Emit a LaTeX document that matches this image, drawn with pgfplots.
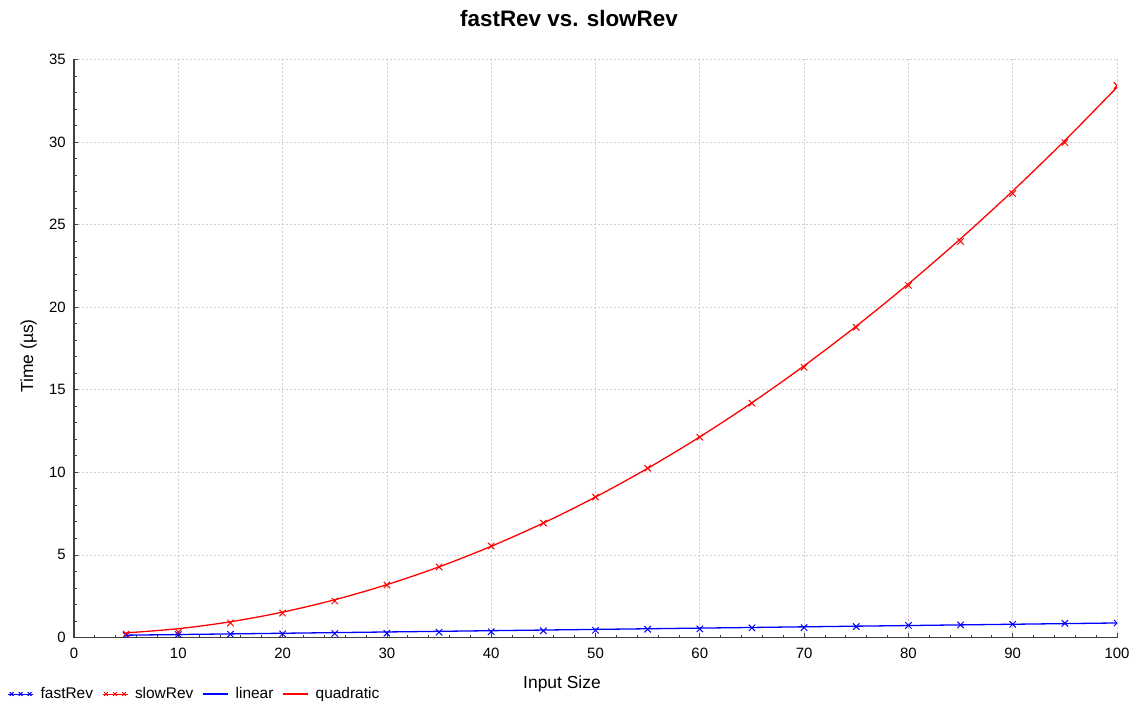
\documentclass[border=0pt]{standalone}
\usepackage{fontspec}
\setmainfont{Liberation Sans}
\usepackage{pgfplots}
\pgfplotsset{compat=1.18}
\definecolor{axisgray}{RGB}{64,64,64}
\definecolor{gridgray}{RGB}{205,205,205}
% legend pictures: three crosses for measurements, a short stroke for fits
\pgfplotsset{
  markleg/.style={legend image code/.code={%
    \path (0bp,0bp) -- (25bp,0bp);
    \path[##1, only marks, mark size=2.6bp] plot coordinates {(3.5bp,0bp) (12.5bp,0bp) (21.5bp,0bp)};}},
  lineleg/.style={legend image code/.code={%
    \path (0bp,0bp) -- (25bp,0bp); \draw[##1] (4bp,0bp) -- (22bp,0bp);}},
}

\begin{document}
\begin{tikzpicture}
\useasboundingbox (0,0) rectangle (1139bp,705bp);
\begin{axis}[
  at={(74bp,67.5bp)}, anchor=south west,
  scale only axis, width=1043bp, height=578bp,
  xmin=0, xmax=100, ymin=0, ymax=35,
  xtick={0,10,...,100}, ytick={0,5,...,35},
  minor x tick num=4, minor y tick num=4,
  axis x line*=bottom, axis y line*=left,
  axis line style={axisgray, line width=1.1bp, -},
  every outer x axis line/.append style={-},
  every outer y axis line/.append style={-},
  tick align=inside,
  major tick length=4bp, minor tick length=2.5bp,
  every tick/.style={axisgray, line width=0.8bp},
  grid=major,
  major grid style={gridgray, line width=0.8bp, dash pattern=on 2bp off 2bp},
  /pgf/number format/assume math mode=true,
  tick label style={font=\fontsize{15}{18}\selectfont},
  yticklabel style={inner sep=0pt, xshift=-8bp},
  xticklabel style={inner sep=0pt, yshift=-10bp},
  clip marker paths=true,
  legend columns=4,
  legend cell align=left,
  legend style={draw=none, fill=none, at={(-0.0638,-0.0978)}, anchor=west,
    font=\fontsize{15.5}{18}\selectfont, inner sep=0pt,
    nodes={inner sep=0pt}, column sep=7bp,
    /tikz/every even column/.append style={column sep=9bp}},
]
% measured run times
\addplot[blue, only marks, mark=x, mark size=4.5bp, line width=1bp, markleg]
  coordinates {
  (5,0.13) (10,0.18) (15,0.20) (20,0.22) (25,0.24) (30,0.26) (35,0.32)
  (40,0.35) (45,0.41) (50,0.44) (55,0.50) (60,0.52) (65,0.59) (70,0.60)
  (75,0.66) (80,0.73) (85,0.76) (90,0.80) (95,0.86) (100,0.88)};
\addlegendentry{fastRev}
\addplot[red, only marks, mark=x, mark size=4.5bp, line width=1bp, markleg]
  coordinates {
  (5,0.21) (10,0.33) (15,0.88) (20,1.48) (25,2.21) (30,3.18) (35,4.27)
  (40,5.54) (45,6.93) (50,8.50) (55,10.25) (60,12.13) (65,14.19) (70,16.36)
  (75,18.78) (80,21.32) (85,23.98) (90,26.89) (95,29.97) (100,33.42)};
\addlegendentry{slowRev}
% fitted curves
\addplot[blue, line width=1.3bp, lineleg]
  coordinates {(5,0.14) (100,0.88)};
\addlegendentry{linear}
\addplot[red, line width=1.3bp, smooth, lineleg]
  coordinates {
  (5,0.279) (10,0.533) (15,0.952) (20,1.536) (25,2.285) (30,3.199) (35,4.278)
  (40,5.522) (45,6.931) (50,8.505) (55,10.244) (60,12.148) (65,14.217)
  (70,16.451) (75,18.850) (80,21.414) (85,24.143) (90,27.037) (95,30.096)
  (100,33.320)};
\addlegendentry{quadratic}
\end{axis}
\node[anchor=base] at (569bp,678bp) {\bfseries\fontsize{22.5}{26}\selectfont fastRev vs. slowRev};
\node[anchor=base] at (562bp,17bp) {\fontsize{17.5}{21}\selectfont Input Size};
\node[anchor=base, rotate=90] at (33bp,349bp) {\fontsize{17.5}{21}\selectfont Time (µs)};
\end{tikzpicture}
\end{document}
